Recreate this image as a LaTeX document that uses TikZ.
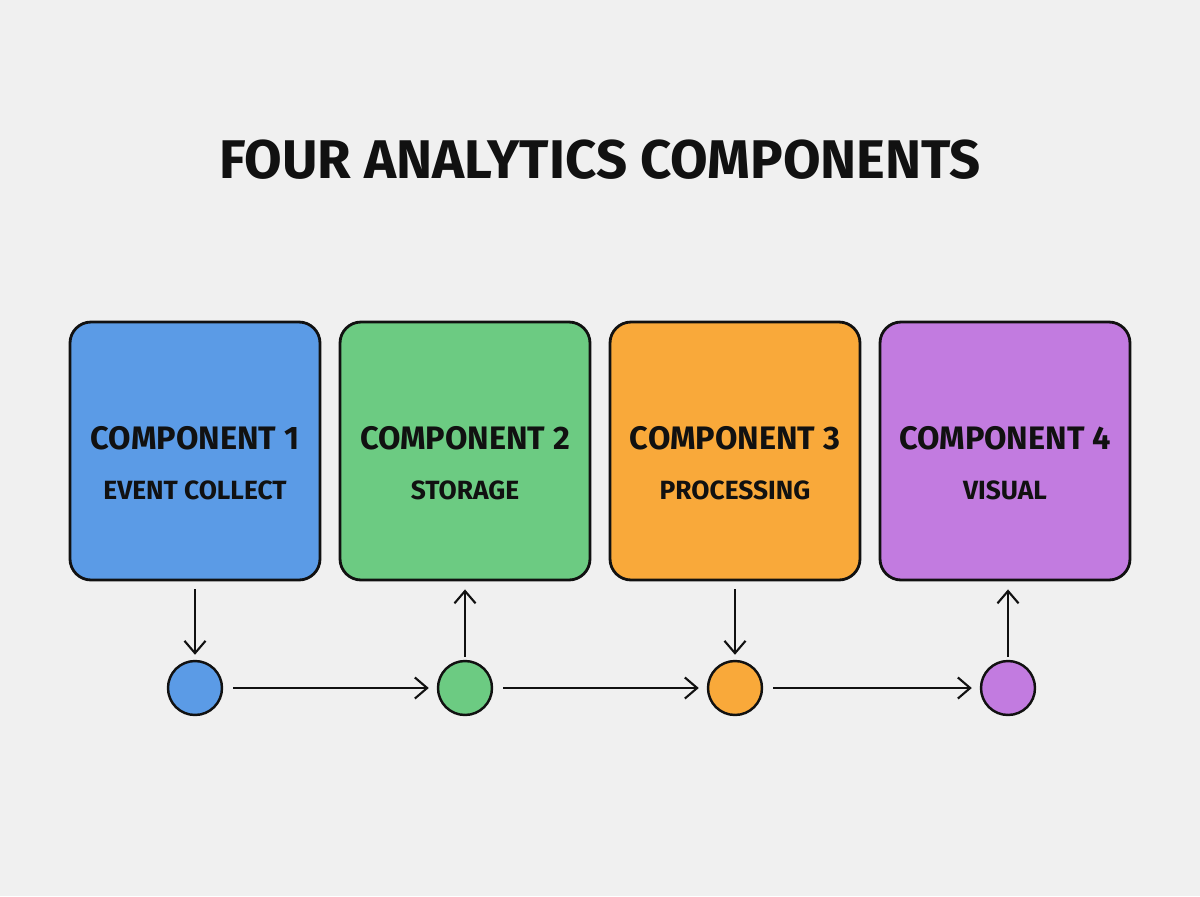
\documentclass[tikz,border=0pt]{standalone}
\usepackage{fontspec}
\setmainfont{Fira Sans}
\usetikzlibrary{arrows.meta}
\definecolor{bgc}{HTML}{F0F0F0}
\definecolor{cblue}{HTML}{5B9BE6}
\definecolor{cgreen}{HTML}{6CCB82}
\definecolor{corange}{HTML}{F9A93A}
\definecolor{cpurple}{HTML}{C27BE0}
\definecolor{ink}{HTML}{111111}
\tikzset{
  compbox/.style={draw=ink, line width=1.6pt, rounded corners=12pt, minimum width=250*0.02cm, minimum height=258*0.02cm, inner sep=0pt, align=center},
  dot/.style={circle, draw=ink, line width=1.4pt, minimum size=54*0.02cm, inner sep=0pt},
  flow/.style={draw=ink, line width=1.2pt, -{Straight Barb[length=7pt, width=12pt, line width=1.2pt]}},
  ttl/.style={font=\fontsize{18.5}{22}\selectfont\bfseries, ink},
  sub/.style={font=\fontsize{15}{18}\selectfont\bfseries, ink}
}
\begin{document}
\begin{tikzpicture}[x=0.02cm, y=-0.02cm]
\fill[bgc] (0,0) rectangle (1200,896);
\useasboundingbox (0,0) rectangle (1200,896);
\node[font=\fontsize{31}{36}\selectfont\bfseries, ink] (title) at (600,160) {FOUR ANALYTICS COMPONENTS};

\node[compbox, fill=cblue] (b1) at (195,451) {};
\node[compbox, fill=cgreen] (b2) at (465,451) {};
\node[compbox, fill=corange] (b3) at (735,451) {};
\node[compbox, fill=cpurple] (b4) at (1005,451) {};

\node[ttl] (t1) at (195,438) {COMPONENT 1};
\node[sub] (s1) at (195,490) {EVENT COLLECT};
\node[ttl] (t2) at (465,438) {COMPONENT 2};
\node[sub] (s2) at (465,490) {STORAGE};
\node[ttl] (t3) at (735,438) {COMPONENT 3};
\node[sub] (s3) at (735,490) {PROCESSING};
\node[ttl] (t4) at (1005,438) {COMPONENT 4};
\node[sub] (s4) at (1005,490) {VISUAL};

\node[dot, fill=cblue] (c1) at (195,688) {};
\node[dot, fill=cgreen] (c2) at (465,688) {};
\node[dot, fill=corange] (c3) at (735,688) {};
\node[dot, fill=cpurple] (c4) at (1008,688) {};

\draw[flow] ([yshift=-8*0.02cm]b1.south -| c1) -- ([yshift=5*0.02cm]c1.north);
\draw[flow] ([yshift=3*0.02cm]c2.north) -- ([yshift=-8*0.02cm]b2.south -| c2);
\draw[flow] ([yshift=-8*0.02cm]b3.south -| c3) -- ([yshift=5*0.02cm]c3.north);
\draw[flow] ([yshift=3*0.02cm]c4.north) -- ([yshift=-8*0.02cm]b4.south -| c4);

\draw[flow] ([xshift=10*0.02cm]c1.east) -- ([xshift=-8*0.02cm]c2.west);
\draw[flow] ([xshift=10*0.02cm]c2.east) -- ([xshift=-8*0.02cm]c3.west);
\draw[flow] ([xshift=10*0.02cm]c3.east) -- ([xshift=-8*0.02cm]c4.west);
\end{tikzpicture}
\end{document}
